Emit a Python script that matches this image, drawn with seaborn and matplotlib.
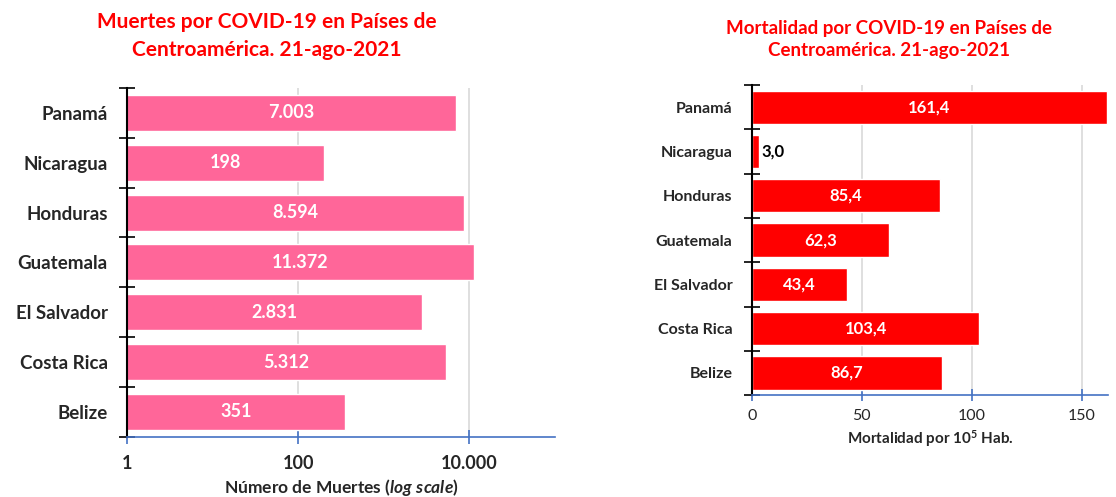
import seaborn as sns
import matplotlib.pyplot as plt
import pandas as pd
from matplotlib.ticker import FixedLocator

paises = ['Panamá', 'Nicaragua', 'Honduras', 'Guatemala', 'El Salvador', 'Costa Rica', 'Belize']
muertes = [7003, 198, 8594, 11372, 2831, 5312, 351]
mortalidad = [161.4, 3.0, 85.4, 62.3, 43.4, 103.4, 86.7]

df = pd.DataFrame({'pais': paises, 'muertes': muertes, 'mortalidad': mortalidad})

sns.set_style('white')
plt.rcParams['font.family'] = ['Lato', 'DejaVu Sans']
plt.rcParams['mathtext.fontset'] = 'custom'
plt.rcParams['mathtext.it'] = 'Lato:italic:bold'
plt.rcParams['mathtext.bf'] = 'Lato:bold'
plt.rcParams['mathtext.rm'] = 'Lato'

fig = plt.figure(figsize=(11.16, 4.97), dpi=100)
ax1 = fig.add_axes([0.1138, 0.121, 0.3835, 0.702])
ax2 = fig.add_axes([0.6738, 0.205, 0.319, 0.624])

blue = '#4472C4'
n = len(paises)


def style_axis(ax, fs_y):
    for s in ['top', 'right']:
        ax.spines[s].set_visible(False)
    ax.spines['left'].set_color('black')
    ax.spines['left'].set_linewidth(1.5)
    ax.spines['bottom'].set_color(blue)
    ax.spines['bottom'].set_linewidth(1.2)
    ax.set_ylim(n - 0.5, -0.5)
    ax.yaxis.set_minor_locator(FixedLocator([i - 0.5 for i in range(n + 1)]))
    ax.tick_params(axis='y', which='both', left=True)
    ax.tick_params(axis='y', which='major', length=0, pad=14, labelsize=fs_y)
    ax.tick_params(axis='y', which='minor', direction='inout', length=12, width=1.2, color='black')
    ax.tick_params(axis='x', which='major', bottom=True, color=blue, width=1.2)
    ax.tick_params(axis='x', which='minor', length=0)
    for lab in ax.get_yticklabels():
        lab.set_fontweight('bold')
    ax.grid(axis='x', color='#D9D9D9', linewidth=1.2)
    ax.set_axisbelow(True)
    ax.set_ylabel('')


# Left: deaths, log scale
ax1.set_xscale('log')
sns.barplot(data=df, x='muertes', y='pais', orient='h', color='#FF6699',
            saturation=1, width=0.72, ax=ax1)
ax1.set_xlim(1, 1e5)
ax1.set_xticks([1, 100, 10000])
ax1.set_xticklabels(['1', '100', '10.000'], fontsize=13, fontweight='bold')
ax1.tick_params(axis='x', which='major', direction='inout', length=10, pad=8)
style_axis(ax1, 13.5)
ax1.set_xlabel(r'Número de Muertes ($\it{log\ scale}$)', fontsize=12.5,
               fontweight='bold', labelpad=4)
for i, v in enumerate(muertes):
    ax1.text(v ** 0.5, i, f'{v:,}'.replace(',', '.'), ha='center', va='center',
             color='white', fontsize=13, fontweight='bold')

# Right: mortality rate
sns.barplot(data=df, x='mortalidad', y='pais', orient='h', color='#FF0000',
            saturation=1, width=0.75, ax=ax2)
ax2.set_xlim(0, 162)
ax2.set_xticks([0, 50, 100, 150])
ax2.set_xticklabels(['0', '50', '100', '150'], fontsize=11.5)
ax2.tick_params(axis='x', which='major', direction='inout', length=8, pad=6)
style_axis(ax2, 11.5)
ax2.set_xlabel(r'Mortalidad por $\mathbf{10^5}$ Hab.', fontsize=11, fontweight='bold', labelpad=4)
for i, v in enumerate(mortalidad):
    txt = f'{v:.1f}'.replace('.', ',')
    if v < 20:
        ax2.text(v + 1.5, i, txt, ha='left', va='center', color='black',
                 fontsize=12, fontweight='bold')
    else:
        ax2.text(v / 2, i, txt, ha='center', va='center', color='white',
                 fontsize=12, fontweight='bold')

fig.text(0.239, 0.975, 'Muertes por COVID-19 en Países de\nCentroamérica. 21-ago-2021',
         ha='center', va='top', color='#FF0000', fontsize=15, fontweight='bold',
         linespacing=1.45)
fig.text(0.797, 0.960, 'Mortalidad por COVID-19 en Países de\nCentroamérica. 21-ago-2021',
         ha='center', va='top', color='#FF0000', fontsize=13.5, fontweight='bold',
         linespacing=1.35)

fig.savefig('out.png', dpi=100)
